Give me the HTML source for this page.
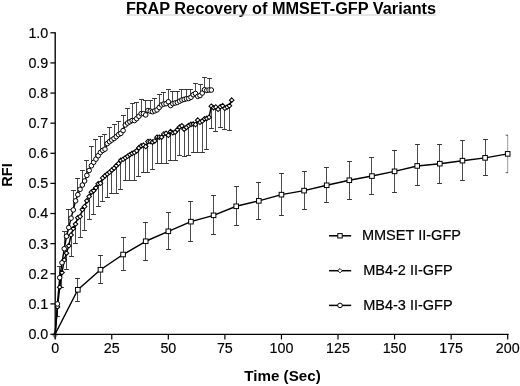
<!DOCTYPE html>
<html><head><meta charset="utf-8"><title>FRAP Recovery of MMSET-GFP Variants</title>
<style>html,body{margin:0;padding:0;background:#fff;}svg{display:block;filter:grayscale(1);}text{font-family:"Liberation Sans",sans-serif;fill:#000;}</style></head><body>
<svg width="520" height="386" viewBox="0 0 520 386">
<rect width="520" height="386" fill="#fff"/>
<text x="125.9" y="13.9" font-size="15.6" font-weight="bold" textLength="310.2" lengthAdjust="spacingAndGlyphs">FRAP Recovery of MMSET-GFP Variants</text>
<line x1="126" y1="15.0" x2="436" y2="15.0" stroke="#c6c6c6" stroke-width="0.9"/>
<path d="M51.6 334.6 L55.2 331.6 L57.8 334.6 L55.2 339.2Z" fill="#5a5a5a" opacity="0.7"/>
<g stroke="#000" stroke-width="1.35" fill="none">
<path d="M55.20 32.20 V334.30 H508.6"/>
<path stroke-width="1.25" d="M50.4 334.30 H55.20"/>
<path stroke-width="1.25" d="M50.4 303.88 H55.20"/>
<path stroke-width="1.25" d="M50.4 273.76 H55.20"/>
<path stroke-width="1.25" d="M50.4 243.64 H55.20"/>
<path stroke-width="1.25" d="M50.4 213.52 H55.20"/>
<path stroke-width="1.25" d="M50.4 183.40 H55.20"/>
<path stroke-width="1.25" d="M50.4 153.28 H55.20"/>
<path stroke-width="1.25" d="M50.4 123.16 H55.20"/>
<path stroke-width="1.25" d="M50.4 93.04 H55.20"/>
<path stroke-width="1.25" d="M50.4 62.92 H55.20"/>
<path stroke-width="1.25" d="M50.4 32.80 H55.20"/>
<path stroke-width="1.2" d="M55.20 334.00 V339.4"/>
<path stroke-width="1.2" d="M111.76 334.00 V339.4"/>
<path stroke-width="1.2" d="M168.33 334.00 V339.4"/>
<path stroke-width="1.2" d="M224.89 334.00 V339.4"/>
<path stroke-width="1.2" d="M281.45 334.00 V339.4"/>
<path stroke-width="1.2" d="M338.01 334.00 V339.4"/>
<path stroke-width="1.2" d="M394.57 334.00 V339.4"/>
<path stroke-width="1.2" d="M451.14 334.00 V339.4"/>
<path stroke-width="1.2" d="M507.70 334.00 V339.4"/>
</g>
<g font-size="14.3" text-anchor="end" stroke="#000" stroke-width="0.15">
<text x="48.3" y="338.90">0.0</text>
<text x="48.3" y="308.78">0.1</text>
<text x="48.3" y="278.66">0.2</text>
<text x="48.3" y="248.54">0.3</text>
<text x="48.3" y="218.42">0.4</text>
<text x="48.3" y="188.30">0.5</text>
<text x="48.3" y="158.18">0.6</text>
<text x="48.3" y="128.06">0.7</text>
<text x="48.3" y="97.94">0.8</text>
<text x="48.3" y="67.82">0.9</text>
<text x="48.3" y="37.70">1.0</text>
</g>
<g font-size="14.3" text-anchor="middle" stroke="#000" stroke-width="0.15">
<text x="55.20" y="353.4">0</text>
<text x="111.76" y="353.4">25</text>
<text x="168.33" y="353.4">50</text>
<text x="224.89" y="353.4">75</text>
<text x="281.45" y="353.4">100</text>
<text x="338.01" y="353.4">125</text>
<text x="394.57" y="353.4">150</text>
<text x="451.14" y="353.4">175</text>
<text x="507.70" y="353.4">200</text>
</g>
<text x="244.3" y="380.8" font-size="14.6" font-weight="bold" textLength="76.4" lengthAdjust="spacingAndGlyphs">Time (Sec)</text>
<text transform="translate(12.2,175.0) rotate(-90)" font-size="14.6" font-weight="bold" text-anchor="middle">RFI</text>
<g stroke="#383838" fill="none">
<path stroke-width="0.9" d="M59.50 277.68 V266.83"/><path stroke-width="1.0" d="M57.05 266.50 H61.95"/>
<path stroke-width="0.9" d="M64.50 248.76 V231.89"/><path stroke-width="1.0" d="M62.05 231.50 H66.95"/>
<path stroke-width="0.9" d="M68.50 227.53 V209.91"/><path stroke-width="1.0" d="M66.05 209.50 H70.95"/>
<path stroke-width="0.9" d="M73.50 209.91 V190.93"/><path stroke-width="1.0" d="M71.05 190.50 H75.95"/>
<path stroke-width="0.9" d="M77.50 194.66 V178.58"/><path stroke-width="1.0" d="M75.05 178.50 H79.95"/>
<path stroke-width="0.9" d="M82.50 185.03 V170.45"/><path stroke-width="1.0" d="M80.05 170.50 H84.95"/>
<path stroke-width="0.9" d="M86.50 175.39 V160.81"/><path stroke-width="1.0" d="M84.05 160.50 H88.95"/>
<path stroke-width="0.9" d="M91.50 165.78 V146.35"/><path stroke-width="1.0" d="M89.05 146.50 H93.95"/>
<path stroke-width="0.9" d="M95.50 159.15 V139.55"/><path stroke-width="1.0" d="M93.05 139.50 H97.95"/>
<path stroke-width="0.9" d="M100.50 152.38 V136.71"/><path stroke-width="1.0" d="M98.05 136.50 H102.95"/>
<path stroke-width="0.9" d="M104.50 149.15 V134.15"/><path stroke-width="1.0" d="M102.05 134.50 H106.95"/>
<path stroke-width="0.9" d="M109.50 141.65 V127.17"/><path stroke-width="1.0" d="M107.05 127.50 H111.95"/>
<path stroke-width="0.9" d="M114.50 138.52 V124.36"/><path stroke-width="1.0" d="M112.05 124.50 H116.95"/>
<path stroke-width="0.9" d="M118.50 134.61 V121.17"/><path stroke-width="1.0" d="M116.05 121.50 H120.95"/>
<path stroke-width="0.9" d="M123.50 130.54 V115.54"/><path stroke-width="1.0" d="M121.05 115.50 H125.95"/>
<path stroke-width="0.9" d="M127.50 123.04 V108.70"/><path stroke-width="1.0" d="M125.05 108.50 H129.95"/>
<path stroke-width="0.9" d="M132.50 120.54 V103.67"/><path stroke-width="1.0" d="M130.05 103.50 H134.95"/>
<path stroke-width="0.9" d="M136.50 118.64 V102.98"/><path stroke-width="1.0" d="M134.05 102.50 H138.95"/>
<path stroke-width="0.9" d="M141.50 113.67 V99.97"/><path stroke-width="1.0" d="M139.05 99.50 H143.95"/>
<path stroke-width="0.9" d="M145.50 114.91 V100.57"/><path stroke-width="1.0" d="M143.05 100.50 H147.95"/>
<path stroke-width="0.9" d="M150.50 111.11 V100.57"/><path stroke-width="1.0" d="M148.05 100.50 H152.95"/>
<path stroke-width="0.9" d="M154.50 110.90 V98.76"/><path stroke-width="1.0" d="M152.05 98.50 H156.95"/>
<path stroke-width="0.9" d="M159.50 107.41 V94.85"/><path stroke-width="1.0" d="M157.05 94.50 H161.95"/>
<path stroke-width="0.9" d="M163.50 104.03 V92.74"/><path stroke-width="1.0" d="M161.05 92.50 H165.95"/>
<path stroke-width="0.9" d="M168.50 101.77 V89.12"/><path stroke-width="1.0" d="M166.05 89.50 H170.95"/>
<path stroke-width="0.9" d="M172.50 103.67 V91.23"/><path stroke-width="1.0" d="M170.05 91.50 H174.95"/>
<path stroke-width="0.9" d="M177.50 102.38 V91.23"/><path stroke-width="1.0" d="M175.05 91.50 H179.95"/>
<path stroke-width="0.9" d="M181.50 100.03 V89.28"/><path stroke-width="1.0" d="M179.05 89.50 H183.95"/>
<path stroke-width="0.9" d="M186.50 98.76 V89.28"/><path stroke-width="1.0" d="M184.05 89.50 H188.95"/>
<path stroke-width="0.9" d="M190.50 97.26 V89.12"/><path stroke-width="1.0" d="M188.05 89.50 H192.95"/>
<path stroke-width="0.9" d="M195.50 93.43 V83.79"/><path stroke-width="1.0" d="M193.05 83.50 H197.95"/>
<path stroke-width="0.9" d="M200.50 95.54 V84.61"/><path stroke-width="1.0" d="M198.05 84.50 H202.95"/>
<path stroke-width="0.9" d="M204.50 89.73 V77.17"/><path stroke-width="1.0" d="M202.05 77.50 H206.95"/>
<path stroke-width="0.9" d="M209.50 90.03 V78.88"/><path stroke-width="1.0" d="M207.05 78.50 H211.95"/>
<path stroke-width="0.9" d="M57.50 306.89 V316.23"/><path stroke-width="1.0" d="M55.05 316.50 H59.95"/>
<path stroke-width="0.9" d="M61.50 272.56 V287.16"/><path stroke-width="1.0" d="M59.05 287.50 H63.95"/>
<path stroke-width="0.9" d="M66.50 253.13 V269.36"/><path stroke-width="1.0" d="M64.05 269.50 H68.95"/>
<path stroke-width="0.9" d="M71.50 235.03 V256.29"/><path stroke-width="1.0" d="M69.05 256.50 H73.95"/>
<path stroke-width="0.9" d="M75.50 224.06 V243.04"/><path stroke-width="1.0" d="M73.05 243.50 H77.95"/>
<path stroke-width="0.9" d="M80.50 216.53 V237.31"/><path stroke-width="1.0" d="M78.05 237.50 H82.95"/>
<path stroke-width="0.9" d="M84.50 206.50 V230.27"/><path stroke-width="1.0" d="M82.05 230.50 H86.95"/>
<path stroke-width="0.9" d="M89.50 196.53 V219.03"/><path stroke-width="1.0" d="M87.05 219.50 H91.95"/>
<path stroke-width="0.9" d="M93.50 190.63 V214.12"/><path stroke-width="1.0" d="M91.05 214.50 H95.95"/>
<path stroke-width="0.9" d="M98.50 183.70 V206.29"/><path stroke-width="1.0" d="M96.05 206.50 H100.95"/>
<path stroke-width="0.9" d="M102.50 177.98 V201.47"/><path stroke-width="1.0" d="M100.05 201.50 H104.95"/>
<path stroke-width="0.9" d="M107.50 174.06 V197.86"/><path stroke-width="1.0" d="M105.05 197.50 H109.95"/>
<path stroke-width="0.9" d="M111.50 170.15 V193.04"/><path stroke-width="1.0" d="M109.05 193.50 H113.95"/>
<path stroke-width="0.9" d="M116.50 165.63 V193.34"/><path stroke-width="1.0" d="M114.05 193.50 H118.95"/>
<path stroke-width="0.9" d="M120.50 160.33 V189.03"/><path stroke-width="1.0" d="M118.05 189.50 H122.95"/>
<path stroke-width="0.9" d="M125.50 157.80 V180.99"/><path stroke-width="1.0" d="M123.05 180.50 H127.95"/>
<path stroke-width="0.9" d="M129.50 154.67 V180.69"/><path stroke-width="1.0" d="M127.05 180.50 H131.95"/>
<path stroke-width="0.9" d="M134.50 152.53 V180.69"/><path stroke-width="1.0" d="M132.05 180.50 H136.95"/>
<path stroke-width="0.9" d="M138.50 147.86 V176.47"/><path stroke-width="1.0" d="M136.05 176.50 H140.95"/>
<path stroke-width="0.9" d="M143.50 145.27 V172.56"/><path stroke-width="1.0" d="M141.05 172.50 H145.95"/>
<path stroke-width="0.9" d="M147.50 141.53 V172.56"/><path stroke-width="1.0" d="M145.05 172.50 H149.95"/>
<path stroke-width="0.9" d="M152.50 142.14 V169.39"/><path stroke-width="1.0" d="M150.05 169.50 H154.95"/>
<path stroke-width="0.9" d="M157.50 137.17 V163.37"/><path stroke-width="1.0" d="M155.05 163.50 H159.95"/>
<path stroke-width="0.9" d="M161.50 137.17 V163.37"/><path stroke-width="1.0" d="M159.05 163.50 H163.95"/>
<path stroke-width="0.9" d="M166.50 133.40 V163.37"/><path stroke-width="1.0" d="M164.05 163.50 H168.95"/>
<path stroke-width="0.9" d="M170.50 131.59 V160.27"/><path stroke-width="1.0" d="M168.05 160.50 H172.95"/>
<path stroke-width="0.9" d="M175.50 132.20 V160.27"/><path stroke-width="1.0" d="M173.05 160.50 H177.95"/>
<path stroke-width="0.9" d="M179.50 127.08 V155.69"/><path stroke-width="1.0" d="M177.05 155.50 H181.95"/>
<path stroke-width="0.9" d="M184.50 129.18 V156.59"/><path stroke-width="1.0" d="M182.05 156.50 H186.95"/>
<path stroke-width="0.9" d="M188.50 125.57 V155.69"/><path stroke-width="1.0" d="M186.05 155.50 H190.95"/>
<path stroke-width="0.9" d="M193.50 124.06 V152.77"/><path stroke-width="1.0" d="M191.05 152.50 H195.95"/>
<path stroke-width="0.9" d="M197.50 120.15 V152.17"/><path stroke-width="1.0" d="M195.05 152.50 H199.95"/>
<path stroke-width="0.9" d="M202.50 121.05 V152.77"/><path stroke-width="1.0" d="M200.05 152.50 H204.95"/>
<path stroke-width="0.9" d="M206.50 118.34 V149.67"/><path stroke-width="1.0" d="M204.05 149.50 H208.95"/>
<path stroke-width="0.9" d="M211.50 106.17 V128.88"/><path stroke-width="1.0" d="M209.05 128.50 H213.95"/>
<path stroke-width="0.9" d="M215.50 107.05 V131.59"/><path stroke-width="1.0" d="M213.05 131.50 H217.95"/>
<path stroke-width="0.9" d="M220.50 106.77 V127.68"/><path stroke-width="1.0" d="M218.05 127.50 H222.95"/>
<path stroke-width="0.9" d="M224.50 108.28 V129.49"/><path stroke-width="1.0" d="M222.05 129.50 H226.95"/>
<path stroke-width="0.9" d="M229.50 105.78 V130.09"/><path stroke-width="1.0" d="M227.05 130.50 H231.95"/>
<path stroke-width="0.9" d="M77.50 278.04 V301.86"/><path stroke-width="1.0" d="M75.05 278.50 H79.95"/><path stroke-width="1.0" d="M75.05 301.50 H79.95"/>
<path stroke-width="0.9" d="M100.50 255.39 V283.40"/><path stroke-width="1.0" d="M98.05 255.50 H102.95"/><path stroke-width="1.0" d="M98.05 283.50 H102.95"/>
<path stroke-width="0.9" d="M123.50 237.92 V270.75"/><path stroke-width="1.0" d="M121.05 237.50 H125.95"/><path stroke-width="1.0" d="M121.05 270.50 H125.95"/>
<path stroke-width="0.9" d="M145.50 222.86 V260.27"/><path stroke-width="1.0" d="M143.05 222.50 H147.95"/><path stroke-width="1.0" d="M143.05 260.50 H147.95"/>
<path stroke-width="0.9" d="M168.50 212.32 V249.87"/><path stroke-width="1.0" d="M166.05 212.50 H170.95"/><path stroke-width="1.0" d="M166.05 249.50 H170.95"/>
<path stroke-width="0.9" d="M190.50 201.65 V241.83"/><path stroke-width="1.0" d="M188.05 201.50 H192.95"/><path stroke-width="1.0" d="M188.05 241.50 H192.95"/>
<path stroke-width="0.9" d="M213.50 195.87 V234.30"/><path stroke-width="1.0" d="M211.05 195.50 H215.95"/><path stroke-width="1.0" d="M211.05 234.50 H215.95"/>
<path stroke-width="0.9" d="M236.50 186.86 V225.87"/><path stroke-width="1.0" d="M234.05 186.50 H238.95"/><path stroke-width="1.0" d="M234.05 225.50 H238.95"/>
<path stroke-width="0.9" d="M258.50 182.29 V219.66"/><path stroke-width="1.0" d="M256.05 182.50 H260.95"/><path stroke-width="1.0" d="M256.05 219.50 H260.95"/>
<path stroke-width="0.9" d="M281.50 173.88 V215.33"/><path stroke-width="1.0" d="M279.05 173.50 H283.95"/><path stroke-width="1.0" d="M279.05 215.50 H283.95"/>
<path stroke-width="0.9" d="M304.50 171.35 V209.66"/><path stroke-width="1.0" d="M302.05 171.50 H306.95"/><path stroke-width="1.0" d="M302.05 209.50 H306.95"/>
<path stroke-width="0.9" d="M326.50 167.89 V202.26"/><path stroke-width="1.0" d="M324.05 167.50 H328.95"/><path stroke-width="1.0" d="M324.05 202.50 H328.95"/>
<path stroke-width="0.9" d="M349.50 161.71 V199.66"/><path stroke-width="1.0" d="M347.05 161.50 H351.95"/><path stroke-width="1.0" d="M347.05 199.50 H351.95"/>
<path stroke-width="0.9" d="M371.50 157.68 V194.24"/><path stroke-width="1.0" d="M369.05 157.50 H373.95"/><path stroke-width="1.0" d="M369.05 194.50 H373.95"/>
<path stroke-width="0.9" d="M394.50 150.27 V192.29"/><path stroke-width="1.0" d="M392.05 150.50 H396.95"/><path stroke-width="1.0" d="M392.05 192.50 H396.95"/>
<path stroke-width="0.9" d="M417.50 144.24 V185.51"/><path stroke-width="1.0" d="M415.05 144.50 H419.95"/><path stroke-width="1.0" d="M415.05 185.50 H419.95"/>
<path stroke-width="0.9" d="M439.50 144.24 V183.28"/><path stroke-width="1.0" d="M437.05 144.50 H441.95"/><path stroke-width="1.0" d="M437.05 183.50 H441.95"/>
<path stroke-width="0.9" d="M462.50 140.93 V180.27"/><path stroke-width="1.0" d="M460.05 140.50 H464.95"/><path stroke-width="1.0" d="M460.05 180.50 H464.95"/>
<path stroke-width="0.9" d="M485.50 139.73 V175.66"/><path stroke-width="1.0" d="M483.05 139.50 H487.95"/><path stroke-width="1.0" d="M483.05 175.50 H487.95"/>
<g stroke="#707070"><path stroke-width="0.7" d="M507.70 135.21 V172.68"/><path stroke="#444" stroke-width="0.9" d="M505.70 135.21 H508.00M505.70 172.68 H508.00"/></g>
</g>
<g stroke="#000" stroke-width="1.45" fill="none" stroke-linejoin="round">
<path d="M55.20 334.00 L77.83 289.78 L100.45 269.75 L123.08 254.51 L145.70 241.26 L168.33 231.29 L190.95 221.65 L213.57 215.33 L236.20 206.29 L258.83 200.87 L281.45 194.66 L304.08 190.63 L326.70 185.27 L349.32 180.27 L371.95 176.08 L394.57 171.35 L417.20 165.93 L439.83 163.67 L462.45 160.66 L485.08 157.86 L507.70 153.88"/>
<path d="M55.20 334.00 L57.46 306.89 L59.73 287.13 L61.99 272.56 L64.25 260.03 L66.51 253.13 L68.78 245.75 L71.04 235.03 L73.30 228.58 L75.56 224.06 L77.83 217.74 L80.09 216.53 L82.35 209.60 L84.61 206.50 L86.88 200.87 L89.14 196.53 L91.40 192.13 L93.66 190.63 L95.93 187.77 L98.19 183.70 L100.45 183.25 L102.71 177.98 L104.98 175.87 L107.24 174.06 L109.50 172.26 L111.76 170.15 L114.03 168.19 L116.29 165.63 L118.55 163.52 L120.81 160.33 L123.08 159.30 L125.34 157.80 L127.60 156.29 L129.86 154.67 L132.12 153.40 L134.39 152.53 L136.65 150.87 L138.91 147.86 L141.18 145.90 L143.44 145.27 L145.70 146.53 L147.96 141.53 L150.23 141.53 L152.49 142.14 L154.75 140.93 L157.01 137.17 L159.28 137.17 L161.54 137.17 L163.80 134.00 L166.06 133.40 L168.33 135.21 L170.59 131.59 L172.85 132.80 L175.11 132.20 L177.38 129.64 L179.64 127.08 L181.90 125.87 L184.16 129.18 L186.43 127.38 L188.69 125.57 L190.95 124.36 L193.21 124.06 L195.48 124.55 L197.74 120.15 L200.00 122.26 L202.26 121.05 L204.53 118.88 L206.79 118.34 L209.05 117.29 L211.31 106.17 L213.57 107.68 L215.84 107.05 L218.10 109.30 L220.36 106.77 L222.62 105.78 L224.89 108.28 L227.15 107.05 L229.41 105.78 L231.68 100.15"/>
<path d="M55.20 334.00 L57.46 303.88 L59.73 277.68 L61.99 262.77 L64.25 248.76 L66.51 236.26 L68.78 227.53 L71.04 218.16 L73.30 209.91 L75.56 200.87 L77.83 194.66 L80.09 189.27 L82.35 185.03 L84.61 180.99 L86.88 175.39 L89.14 170.45 L91.40 165.78 L93.66 162.32 L95.93 159.15 L98.19 155.69 L100.45 152.38 L102.71 150.42 L104.98 149.15 L107.24 143.64 L109.50 141.65 L111.76 140.03 L114.03 138.52 L116.29 136.71 L118.55 134.61 L120.81 133.40 L123.08 130.54 L125.34 124.97 L127.60 123.04 L129.86 121.77 L132.12 120.54 L134.39 120.54 L136.65 118.64 L138.91 116.23 L141.18 113.67 L143.44 113.67 L145.70 114.91 L147.96 110.51 L150.23 111.11 L152.49 111.71 L154.75 110.90 L157.01 109.91 L159.28 107.41 L161.54 104.91 L163.80 104.03 L166.06 103.67 L168.33 101.77 L170.59 105.54 L172.85 103.67 L175.11 102.98 L177.38 102.38 L179.64 101.17 L181.90 100.03 L184.16 99.37 L186.43 98.76 L188.69 98.46 L190.95 97.26 L193.21 94.70 L195.48 93.43 L197.74 96.35 L200.00 95.54 L202.26 93.04 L204.53 89.73 L206.79 90.33 L209.05 90.03 L211.31 90.03"/>
</g>
<g stroke="#000" stroke-width="1" fill="#fff">
<rect x="75.53" y="287.48" width="4.6" height="4.6"/>
<rect x="98.15" y="267.45" width="4.6" height="4.6"/>
<rect x="120.78" y="252.21" width="4.6" height="4.6"/>
<rect x="143.40" y="238.96" width="4.6" height="4.6"/>
<rect x="166.03" y="228.99" width="4.6" height="4.6"/>
<rect x="188.65" y="219.35" width="4.6" height="4.6"/>
<rect x="211.27" y="213.03" width="4.6" height="4.6"/>
<rect x="233.90" y="203.99" width="4.6" height="4.6"/>
<rect x="256.53" y="198.57" width="4.6" height="4.6"/>
<rect x="279.15" y="192.36" width="4.6" height="4.6"/>
<rect x="301.78" y="188.33" width="4.6" height="4.6"/>
<rect x="324.40" y="182.97" width="4.6" height="4.6"/>
<rect x="347.02" y="177.97" width="4.6" height="4.6"/>
<rect x="369.65" y="173.78" width="4.6" height="4.6"/>
<rect x="392.27" y="169.05" width="4.6" height="4.6"/>
<rect x="414.90" y="163.63" width="4.6" height="4.6"/>
<rect x="437.53" y="161.37" width="4.6" height="4.6"/>
<rect x="460.15" y="158.36" width="4.6" height="4.6"/>
<rect x="482.78" y="155.56" width="4.6" height="4.6"/>
<rect x="505.40" y="151.58" width="4.6" height="4.6"/>
<path stroke-width="1.05" d="M57.46 304.59 L59.76 306.89 L57.46 309.19 L55.16 306.89Z"/>
<path stroke-width="1.05" d="M59.73 284.83 L62.02 287.13 L59.73 289.43 L57.43 287.13Z"/>
<path stroke-width="1.05" d="M61.99 270.26 L64.29 272.56 L61.99 274.86 L59.69 272.56Z"/>
<path stroke-width="1.05" d="M64.25 257.73 L66.55 260.03 L64.25 262.33 L61.95 260.03Z"/>
<path stroke-width="1.05" d="M66.51 250.83 L68.81 253.13 L66.51 255.43 L64.21 253.13Z"/>
<path stroke-width="1.05" d="M68.78 243.45 L71.08 245.75 L68.78 248.05 L66.48 245.75Z"/>
<path stroke-width="1.05" d="M71.04 232.73 L73.34 235.03 L71.04 237.33 L68.74 235.03Z"/>
<path stroke-width="1.05" d="M73.30 226.28 L75.60 228.58 L73.30 230.88 L71.00 228.58Z"/>
<path stroke-width="1.05" d="M75.56 221.76 L77.86 224.06 L75.56 226.36 L73.26 224.06Z"/>
<path stroke-width="1.05" d="M77.83 215.44 L80.12 217.74 L77.83 220.04 L75.53 217.74Z"/>
<path stroke-width="1.05" d="M80.09 214.23 L82.39 216.53 L80.09 218.83 L77.79 216.53Z"/>
<path stroke-width="1.05" d="M82.35 207.30 L84.65 209.60 L82.35 211.90 L80.05 209.60Z"/>
<path stroke-width="1.05" d="M84.61 204.20 L86.91 206.50 L84.61 208.80 L82.31 206.50Z"/>
<path stroke-width="1.05" d="M86.88 198.57 L89.17 200.87 L86.88 203.17 L84.58 200.87Z"/>
<path stroke-width="1.05" d="M89.14 194.23 L91.44 196.53 L89.14 198.83 L86.84 196.53Z"/>
<path stroke-width="1.05" d="M91.40 189.83 L93.70 192.13 L91.40 194.43 L89.10 192.13Z"/>
<path stroke-width="1.05" d="M93.66 188.33 L95.96 190.63 L93.66 192.93 L91.36 190.63Z"/>
<path stroke-width="1.05" d="M95.93 185.47 L98.23 187.77 L95.93 190.07 L93.63 187.77Z"/>
<path stroke-width="1.05" d="M98.19 181.40 L100.49 183.70 L98.19 186.00 L95.89 183.70Z"/>
<path stroke-width="1.05" d="M100.45 180.95 L102.75 183.25 L100.45 185.55 L98.15 183.25Z"/>
<path stroke-width="1.05" d="M102.71 175.68 L105.01 177.98 L102.71 180.28 L100.41 177.98Z"/>
<path stroke-width="1.05" d="M104.98 173.57 L107.28 175.87 L104.98 178.17 L102.68 175.87Z"/>
<path stroke-width="1.05" d="M107.24 171.76 L109.54 174.06 L107.24 176.36 L104.94 174.06Z"/>
<path stroke-width="1.05" d="M109.50 169.96 L111.80 172.26 L109.50 174.56 L107.20 172.26Z"/>
<path stroke-width="1.05" d="M111.76 167.85 L114.06 170.15 L111.76 172.45 L109.46 170.15Z"/>
<path stroke-width="1.05" d="M114.03 165.89 L116.33 168.19 L114.03 170.49 L111.73 168.19Z"/>
<path stroke-width="1.05" d="M116.29 163.33 L118.59 165.63 L116.29 167.93 L113.99 165.63Z"/>
<path stroke-width="1.05" d="M118.55 161.22 L120.85 163.52 L118.55 165.82 L116.25 163.52Z"/>
<path stroke-width="1.05" d="M120.81 158.03 L123.11 160.33 L120.81 162.63 L118.51 160.33Z"/>
<path stroke-width="1.05" d="M123.08 157.00 L125.38 159.30 L123.08 161.60 L120.78 159.30Z"/>
<path stroke-width="1.05" d="M125.34 155.50 L127.64 157.80 L125.34 160.10 L123.04 157.80Z"/>
<path stroke-width="1.05" d="M127.60 153.99 L129.90 156.29 L127.60 158.59 L125.30 156.29Z"/>
<path stroke-width="1.05" d="M129.86 152.37 L132.16 154.67 L129.86 156.97 L127.56 154.67Z"/>
<path stroke-width="1.05" d="M132.12 151.10 L134.43 153.40 L132.12 155.70 L129.82 153.40Z"/>
<path stroke-width="1.05" d="M134.39 150.23 L136.69 152.53 L134.39 154.83 L132.09 152.53Z"/>
<path stroke-width="1.05" d="M136.65 148.57 L138.95 150.87 L136.65 153.17 L134.35 150.87Z"/>
<path stroke-width="1.05" d="M138.91 145.56 L141.21 147.86 L138.91 150.16 L136.61 147.86Z"/>
<path stroke-width="1.05" d="M141.18 143.60 L143.48 145.90 L141.18 148.20 L138.88 145.90Z"/>
<path stroke-width="1.05" d="M143.44 142.97 L145.74 145.27 L143.44 147.57 L141.14 145.27Z"/>
<path stroke-width="1.05" d="M145.70 144.23 L148.00 146.53 L145.70 148.83 L143.40 146.53Z"/>
<path stroke-width="1.05" d="M147.96 139.23 L150.26 141.53 L147.96 143.83 L145.66 141.53Z"/>
<path stroke-width="1.05" d="M150.23 139.23 L152.53 141.53 L150.23 143.83 L147.93 141.53Z"/>
<path stroke-width="1.05" d="M152.49 139.84 L154.79 142.14 L152.49 144.44 L150.19 142.14Z"/>
<path stroke-width="1.05" d="M154.75 138.63 L157.05 140.93 L154.75 143.23 L152.45 140.93Z"/>
<path stroke-width="1.05" d="M157.01 134.87 L159.31 137.17 L157.01 139.47 L154.71 137.17Z"/>
<path stroke-width="1.05" d="M159.28 134.87 L161.58 137.17 L159.28 139.47 L156.97 137.17Z"/>
<path stroke-width="1.05" d="M161.54 134.87 L163.84 137.17 L161.54 139.47 L159.24 137.17Z"/>
<path stroke-width="1.05" d="M163.80 131.70 L166.10 134.00 L163.80 136.30 L161.50 134.00Z"/>
<path stroke-width="1.05" d="M166.06 131.10 L168.36 133.40 L166.06 135.70 L163.76 133.40Z"/>
<path stroke-width="1.05" d="M168.33 132.91 L170.63 135.21 L168.33 137.51 L166.03 135.21Z"/>
<path stroke-width="1.05" d="M170.59 129.29 L172.89 131.59 L170.59 133.89 L168.29 131.59Z"/>
<path stroke-width="1.05" d="M172.85 130.50 L175.15 132.80 L172.85 135.10 L170.55 132.80Z"/>
<path stroke-width="1.05" d="M175.11 129.90 L177.41 132.20 L175.11 134.50 L172.81 132.20Z"/>
<path stroke-width="1.05" d="M177.38 127.34 L179.68 129.64 L177.38 131.94 L175.07 129.64Z"/>
<path stroke-width="1.05" d="M179.64 124.78 L181.94 127.08 L179.64 129.38 L177.34 127.08Z"/>
<path stroke-width="1.05" d="M181.90 123.57 L184.20 125.87 L181.90 128.17 L179.60 125.87Z"/>
<path stroke-width="1.05" d="M184.16 126.88 L186.46 129.18 L184.16 131.48 L181.86 129.18Z"/>
<path stroke-width="1.05" d="M186.43 125.08 L188.73 127.38 L186.43 129.68 L184.12 127.38Z"/>
<path stroke-width="1.05" d="M188.69 123.27 L190.99 125.57 L188.69 127.87 L186.39 125.57Z"/>
<path stroke-width="1.05" d="M190.95 122.06 L193.25 124.36 L190.95 126.66 L188.65 124.36Z"/>
<path stroke-width="1.05" d="M193.21 121.76 L195.51 124.06 L193.21 126.36 L190.91 124.06Z"/>
<path stroke-width="1.05" d="M195.48 122.25 L197.78 124.55 L195.48 126.85 L193.18 124.55Z"/>
<path stroke-width="1.05" d="M197.74 117.85 L200.04 120.15 L197.74 122.45 L195.44 120.15Z"/>
<path stroke-width="1.05" d="M200.00 119.96 L202.30 122.26 L200.00 124.56 L197.70 122.26Z"/>
<path stroke-width="1.05" d="M202.26 118.75 L204.56 121.05 L202.26 123.35 L199.96 121.05Z"/>
<path stroke-width="1.05" d="M204.53 116.58 L206.83 118.88 L204.53 121.18 L202.23 118.88Z"/>
<path stroke-width="1.05" d="M206.79 116.04 L209.09 118.34 L206.79 120.64 L204.49 118.34Z"/>
<path stroke-width="1.05" d="M209.05 114.99 L211.35 117.29 L209.05 119.59 L206.75 117.29Z"/>
<path stroke-width="1.05" d="M211.31 103.87 L213.61 106.17 L211.31 108.47 L209.01 106.17Z"/>
<path stroke-width="1.05" d="M213.57 105.38 L215.88 107.68 L213.57 109.98 L211.27 107.68Z"/>
<path stroke-width="1.05" d="M215.84 104.75 L218.14 107.05 L215.84 109.35 L213.54 107.05Z"/>
<path stroke-width="1.05" d="M218.10 107.00 L220.40 109.30 L218.10 111.60 L215.80 109.30Z"/>
<path stroke-width="1.05" d="M220.36 104.47 L222.66 106.77 L220.36 109.07 L218.06 106.77Z"/>
<path stroke-width="1.05" d="M222.62 103.48 L224.93 105.78 L222.62 108.08 L220.32 105.78Z"/>
<path stroke-width="1.05" d="M224.89 105.98 L227.19 108.28 L224.89 110.58 L222.59 108.28Z"/>
<path stroke-width="1.05" d="M227.15 104.75 L229.45 107.05 L227.15 109.35 L224.85 107.05Z"/>
<path stroke-width="1.05" d="M229.41 103.48 L231.71 105.78 L229.41 108.08 L227.11 105.78Z"/>
<path stroke-width="1.05" d="M231.68 97.85 L233.98 100.15 L231.68 102.45 L229.38 100.15Z"/>
<circle cx="57.46" cy="303.88" r="2.3"/>
<circle cx="59.73" cy="277.68" r="2.3"/>
<circle cx="61.99" cy="262.77" r="2.3"/>
<circle cx="64.25" cy="248.76" r="2.3"/>
<circle cx="66.51" cy="236.26" r="2.3"/>
<circle cx="68.78" cy="227.53" r="2.3"/>
<circle cx="71.04" cy="218.16" r="2.3"/>
<circle cx="73.30" cy="209.91" r="2.3"/>
<circle cx="75.56" cy="200.87" r="2.3"/>
<circle cx="77.83" cy="194.66" r="2.3"/>
<circle cx="80.09" cy="189.27" r="2.3"/>
<circle cx="82.35" cy="185.03" r="2.3"/>
<circle cx="84.61" cy="180.99" r="2.3"/>
<circle cx="86.88" cy="175.39" r="2.3"/>
<circle cx="89.14" cy="170.45" r="2.3"/>
<circle cx="91.40" cy="165.78" r="2.3"/>
<circle cx="93.66" cy="162.32" r="2.3"/>
<circle cx="95.93" cy="159.15" r="2.3"/>
<circle cx="98.19" cy="155.69" r="2.3"/>
<circle cx="100.45" cy="152.38" r="2.3"/>
<circle cx="102.71" cy="150.42" r="2.3"/>
<circle cx="104.98" cy="149.15" r="2.3"/>
<circle cx="107.24" cy="143.64" r="2.3"/>
<circle cx="109.50" cy="141.65" r="2.3"/>
<circle cx="111.76" cy="140.03" r="2.3"/>
<circle cx="114.03" cy="138.52" r="2.3"/>
<circle cx="116.29" cy="136.71" r="2.3"/>
<circle cx="118.55" cy="134.61" r="2.3"/>
<circle cx="120.81" cy="133.40" r="2.3"/>
<circle cx="123.08" cy="130.54" r="2.3"/>
<circle cx="125.34" cy="124.97" r="2.3"/>
<circle cx="127.60" cy="123.04" r="2.3"/>
<circle cx="129.86" cy="121.77" r="2.3"/>
<circle cx="132.12" cy="120.54" r="2.3"/>
<circle cx="134.39" cy="120.54" r="2.3"/>
<circle cx="136.65" cy="118.64" r="2.3"/>
<circle cx="138.91" cy="116.23" r="2.3"/>
<circle cx="141.18" cy="113.67" r="2.3"/>
<circle cx="143.44" cy="113.67" r="2.3"/>
<circle cx="145.70" cy="114.91" r="2.3"/>
<circle cx="147.96" cy="110.51" r="2.3"/>
<circle cx="150.23" cy="111.11" r="2.3"/>
<circle cx="152.49" cy="111.71" r="2.3"/>
<circle cx="154.75" cy="110.90" r="2.3"/>
<circle cx="157.01" cy="109.91" r="2.3"/>
<circle cx="159.28" cy="107.41" r="2.3"/>
<circle cx="161.54" cy="104.91" r="2.3"/>
<circle cx="163.80" cy="104.03" r="2.3"/>
<circle cx="166.06" cy="103.67" r="2.3"/>
<circle cx="168.33" cy="101.77" r="2.3"/>
<circle cx="170.59" cy="105.54" r="2.3"/>
<circle cx="172.85" cy="103.67" r="2.3"/>
<circle cx="175.11" cy="102.98" r="2.3"/>
<circle cx="177.38" cy="102.38" r="2.3"/>
<circle cx="179.64" cy="101.17" r="2.3"/>
<circle cx="181.90" cy="100.03" r="2.3"/>
<circle cx="184.16" cy="99.37" r="2.3"/>
<circle cx="186.43" cy="98.76" r="2.3"/>
<circle cx="188.69" cy="98.46" r="2.3"/>
<circle cx="190.95" cy="97.26" r="2.3"/>
<circle cx="193.21" cy="94.70" r="2.3"/>
<circle cx="195.48" cy="93.43" r="2.3"/>
<circle cx="197.74" cy="96.35" r="2.3"/>
<circle cx="200.00" cy="95.54" r="2.3"/>
<circle cx="202.26" cy="93.04" r="2.3"/>
<circle cx="204.53" cy="89.73" r="2.3"/>
<circle cx="206.79" cy="90.33" r="2.3"/>
<circle cx="209.05" cy="90.03" r="2.3"/>
<circle cx="211.31" cy="90.03" r="2.3"/>
</g>
<g stroke="#000" stroke-width="1.5"><path d="M329.0 235.8 H351.2"/><path d="M329.0 270.7 H351.2"/><path d="M329.0 305.4 H351.2"/></g>
<g stroke="#000" stroke-width="1" fill="#fff">
<rect x="337.8" y="233.6" width="4.4" height="4.4"/>
<path stroke-width="0.9" d="M340 268.5 L342.2 270.7 L340 272.9 L337.8 270.7Z"/>
<circle cx="340" cy="305.4" r="2.3"/>
</g>
<g font-size="14" stroke="#000" stroke-width="0.2">
<text x="361.9" y="240.3" textLength="99.1" lengthAdjust="spacingAndGlyphs">MMSET II-GFP</text>
<text x="363.2" y="275.0" textLength="89.4" lengthAdjust="spacingAndGlyphs">MB4-2 II-GFP</text>
<text x="363.2" y="309.8" textLength="89.4" lengthAdjust="spacingAndGlyphs">MB4-3 II-GFP</text>
</g>
</svg></body></html>
